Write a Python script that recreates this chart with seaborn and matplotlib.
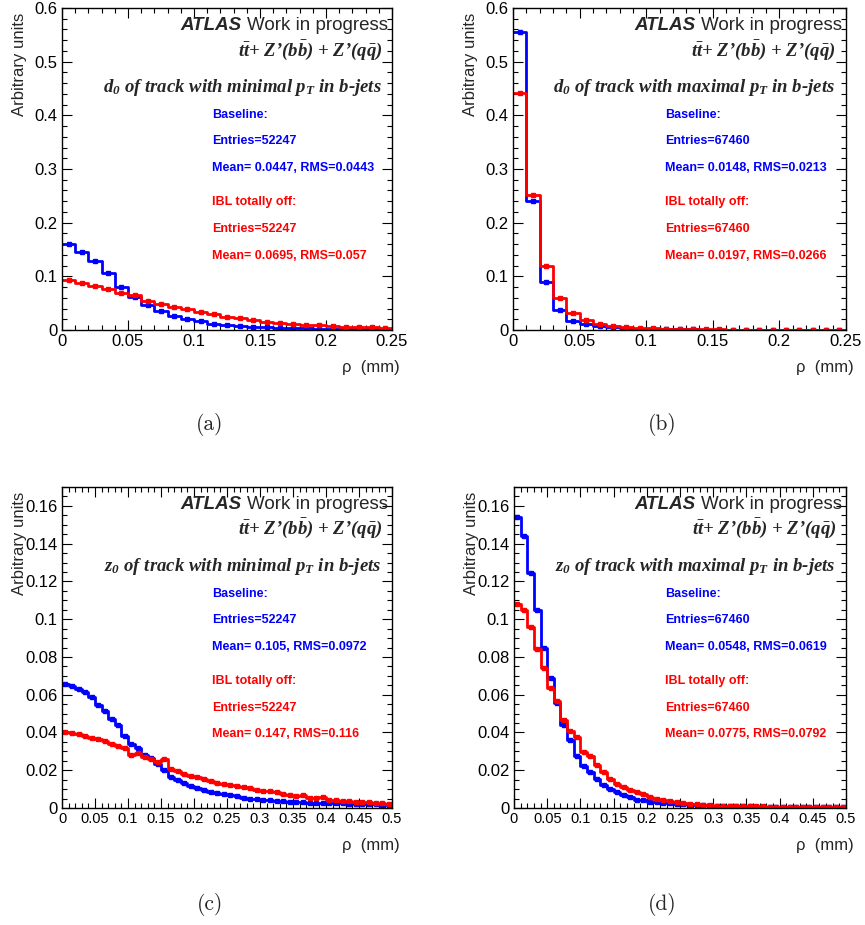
import numpy as np
import pandas as pd
import matplotlib
matplotlib.use("Agg")
import matplotlib.pyplot as plt
import seaborn as sns
from matplotlib.ticker import MultipleLocator, FuncFormatter

# ROOT-ish look: white background, ticks inside on all sides
sns.set_style("ticks")
plt.rcParams['font.family'] = ['Liberation Sans', 'DejaVu Sans']
plt.rcParams['mathtext.fontset'] = 'custom'
plt.rcParams['mathtext.rm'] = 'Liberation Serif:italic:bold'
plt.rcParams['mathtext.it'] = 'Liberation Serif:italic:bold'
plt.rcParams['mathtext.bf'] = 'Liberation Serif:italic:bold'

# ---- data (normalised bin contents) ----
d0_range = (0, 0.25)   # 25 bins of 0.01 mm
z0_range = (0, 0.5)    # 50 bins of 0.01 mm

d0_min_base = [0.161, 0.145, 0.128, 0.106, 0.081, 0.061, 0.046, 0.035, 0.026, 0.021,
               0.016, 0.012, 0.009, 0.007, 0.0058, 0.005, 0.004, 0.0035, 0.003, 0.0025,
               0.002, 0.002, 0.0016, 0.0015, 0.0012]
d0_min_off = [0.0925, 0.087, 0.082, 0.076, 0.069, 0.065, 0.054, 0.049, 0.0425, 0.039,
              0.033, 0.029, 0.025, 0.022, 0.019, 0.015, 0.0137, 0.012, 0.010, 0.0088,
              0.0075, 0.0063, 0.0056, 0.005, 0.0044]

d0_max_base = [0.555, 0.241, 0.09, 0.037, 0.017, 0.011, 0.007, 0.005, 0.0035, 0.0025,
               0.002, 0.0015, 0.0012, 0.001, 0.0008, 0.0007, 0.0006, 0.0005, 0.0004, 0.0004,
               0.0003, 0.0003, 0.0003, 0.0002, 0.0002]
d0_max_off = [0.442, 0.251, 0.12, 0.06, 0.032, 0.019, 0.012, 0.008, 0.0055, 0.004,
              0.003, 0.0025, 0.002, 0.0016, 0.0013, 0.0011, 0.0009, 0.0008, 0.0007, 0.0006,
              0.0005, 0.0005, 0.0004, 0.0004, 0.0003]

z0_min_base = [0.0655, 0.0648, 0.0632, 0.0615, 0.059, 0.0545, 0.0515, 0.047, 0.0437, 0.038,
               0.034, 0.032, 0.028, 0.0265, 0.0235, 0.020, 0.0165, 0.015, 0.0133, 0.0115,
               0.0105, 0.0093, 0.0086, 0.008, 0.0075, 0.007, 0.0062, 0.0055, 0.005, 0.0046,
               0.0042, 0.0044, 0.0038, 0.0036, 0.0034, 0.0032, 0.003, 0.0029, 0.0028, 0.0027,
               0.0026, 0.0025, 0.0024, 0.0023, 0.0022, 0.0021, 0.002, 0.0019, 0.0018, 0.0017]
z0_min_off = [0.0405, 0.0398, 0.039, 0.038, 0.037, 0.0365, 0.0353, 0.034, 0.0327, 0.032,
              0.028, 0.029, 0.0268, 0.0257, 0.0245, 0.026, 0.0205, 0.0195, 0.0182, 0.0172,
              0.0162, 0.0152, 0.0142, 0.0135, 0.0128, 0.0123, 0.0117, 0.011, 0.0104, 0.0097,
              0.0088, 0.009, 0.0084, 0.0076, 0.007, 0.0062, 0.0068, 0.0055, 0.0051, 0.0056,
              0.0045, 0.0041, 0.0039, 0.0036, 0.0034, 0.0032, 0.003, 0.0028, 0.0026, 0.0023]

z0_max_base = [0.154, 0.1438, 0.1244, 0.1047, 0.0847, 0.0689, 0.0556, 0.0437, 0.0359, 0.0278,
               0.0225, 0.0189, 0.0154, 0.0124, 0.0098, 0.0084, 0.0071, 0.0057, 0.0045, 0.004,
               0.0034, 0.003, 0.0027, 0.0024, 0.0022, 0.002, 0.0018, 0.0016, 0.0014, 0.0013,
               0.0012, 0.0011, 0.001, 0.0009, 0.0008, 0.0008, 0.0007, 0.0007, 0.0006, 0.0006,
               0.0005, 0.0005, 0.0005, 0.0004, 0.0004, 0.0004, 0.0003, 0.0003, 0.0003, 0.0003]
z0_max_off = [0.108, 0.105, 0.0956, 0.0841, 0.074, 0.0638, 0.0568, 0.0466, 0.041, 0.0375,
              0.0296, 0.0273, 0.0226, 0.019, 0.0155, 0.0129, 0.0111, 0.0097, 0.0083, 0.0072,
              0.0058, 0.0049, 0.004, 0.0035, 0.003, 0.0026, 0.0023, 0.0021, 0.0017, 0.0014,
              0.0013, 0.0012, 0.0011, 0.001, 0.0009, 0.0009, 0.0008, 0.0008, 0.0007, 0.0007,
              0.0006, 0.0006, 0.0006, 0.0005, 0.0005, 0.0005, 0.0005, 0.0004, 0.0004, 0.0004]

titles = [r"$d_0$ of track with minimal $p_T$ in b-jets",
          r"$d_0$ of track with maximal $p_T$ in b-jets",
          r"$z_0$ of track with minimal $p_T$ in b-jets",
          r"$z_0$ of track with maximal $p_T$ in b-jets"]
base_stats = [("Entries=52247", "Mean= 0.0447, RMS=0.0443"),
              ("Entries=67460", "Mean= 0.0148, RMS=0.0213"),
              ("Entries=52247", "Mean= 0.105, RMS=0.0972"),
              ("Entries=67460", "Mean= 0.0548, RMS=0.0619")]
off_stats = [("Entries=52247", "Mean= 0.0695, RMS=0.057"),
             ("Entries=67460", "Mean= 0.0197, RMS=0.0266"),
             ("Entries=52247", "Mean= 0.147, RMS=0.116"),
             ("Entries=67460", "Mean= 0.0775, RMS=0.0792")]
sublabels = ["(a)", "(b)", "(c)", "(d)"]

panels = [
    (d0_range, d0_min_base, d0_min_off, 0.6, 0.1, 0.02),
    (d0_range, d0_max_base, d0_max_off, 0.6, 0.1, 0.02),
    (z0_range, z0_min_base, z0_min_off, 0.17, 0.02, 0.005),
    (z0_range, z0_max_base, z0_max_off, 0.17, 0.02, 0.005),
]

W, H = 865, 925
fig = plt.figure(figsize=(W / 100, H / 100), dpi=100)
# axes boxes in pixels: left, top, right, bottom
boxes = [(62, 8, 392, 330), (513, 8, 846, 330), (62, 487, 392, 808), (514, 487, 846, 808)]
caption_pos = [(210, 425), (662, 425), (210, 905), (662, 905)]

fmt = FuncFormatter(lambda v, p: f"{v:g}")

for i, (rng, base, off, ymax, ymaj, ymin) in enumerate(panels):
    l, t, r, b = boxes[i]
    ax = fig.add_axes([l / W, 1 - b / H, (r - l) / W, (b - t) / H])
    nb = len(base)
    edges = np.linspace(rng[0], rng[1], nb + 1)
    centers = 0.5 * (edges[:-1] + edges[1:])

    for vals, col in [(base, "#0000ff"), (off, "#ff0000")]:
        df = pd.DataFrame({"rho": centers, "w": vals})
        sns.histplot(data=df, x="rho", weights="w", bins=nb, binrange=rng, element="step",
                     fill=False, color=col, linewidth=2, ax=ax)
        ax.plot(centers, vals, ls="none", marker="s", ms=3, color=col)

    ax.set_xlim(*rng)
    ax.set_ylim(0, ymax)
    ax.set_xlabel("")
    ax.set_ylabel("")
    ax.xaxis.set_major_locator(MultipleLocator(0.05))
    ax.xaxis.set_minor_locator(MultipleLocator(0.01))
    ax.yaxis.set_major_locator(MultipleLocator(ymaj))
    ax.yaxis.set_minor_locator(MultipleLocator(ymin))
    ax.xaxis.set_major_formatter(fmt)
    ax.yaxis.set_major_formatter(fmt)
    ax.tick_params(which="both", direction="in", top=True, right=True, width=0.8, colors="black")
    ax.tick_params(which="major", length=7, pad=3)
    ax.tick_params(which="minor", length=3.5)
    ax.tick_params(axis="y", labelsize=12)
    ax.tick_params(axis="x", labelsize=12 if i < 2 else 10.5)
    for s in ax.spines.values():
        s.set_linewidth(1.0)
        s.set_color("black")

    ax.text(-0.128, 0.985, "Arbitrary units", rotation=90, ha="center", va="top",
            fontsize=12, transform=ax.transAxes)
    ax.text(1.024, -0.117, "ρ  (mm)", ha="right", va="center", fontsize=12,
            transform=ax.transAxes)

    # ATLAS label
    wip = ax.text(0.988, 0.947, "Work in progress", ha="right", va="center",
                  fontsize=13.5, transform=ax.transAxes)
    ax.annotate("ATLAS", xy=(0, 0), xycoords=wip, xytext=(-4, 0), textcoords="offset points",
                ha="right", va="bottom", fontsize=13.5, fontweight="bold", fontstyle="italic")
    ax.text(0.97, 0.870, r"$t\bar{t}$+ Z’($b\bar{b}$) + Z’($q\bar{q}$)", ha="right", va="center",
            fontsize=13.5, family="Liberation Serif", fontweight="bold", fontstyle="italic",
            transform=ax.transAxes)
    ax.text(0.968, 0.752, titles[i], ha="right", va="center", fontsize=13.5,
            family="Liberation Serif", fontweight="bold", fontstyle="italic",
            transform=ax.transAxes)

    tx = 0.456
    fs = 9
    ax.text(tx, 0.668, "Baseline:", color="#0000ff", fontsize=fs, fontweight="bold",
            va="center", transform=ax.transAxes)
    ax.text(tx, 0.586, base_stats[i][0], color="#0000ff", fontsize=fs, fontweight="bold",
            va="center", transform=ax.transAxes)
    ax.text(tx, 0.503, base_stats[i][1], color="#0000ff", fontsize=fs, fontweight="bold",
            va="center", transform=ax.transAxes)
    ax.text(tx, 0.397, "IBL totally off:", color="#ff0000", fontsize=fs, fontweight="bold",
            va="center", transform=ax.transAxes)
    ax.text(tx, 0.313, off_stats[i][0], color="#ff0000", fontsize=fs, fontweight="bold",
            va="center", transform=ax.transAxes)
    ax.text(tx, 0.230, off_stats[i][1], color="#ff0000", fontsize=fs, fontweight="bold",
            va="center", transform=ax.transAxes)

    cx, cy = caption_pos[i]
    fig.text(cx / W, 1 - cy / H, sublabels[i], ha="center", va="center", fontsize=15.5,
             family="cmr10")

fig.savefig("out.png", dpi=100)
